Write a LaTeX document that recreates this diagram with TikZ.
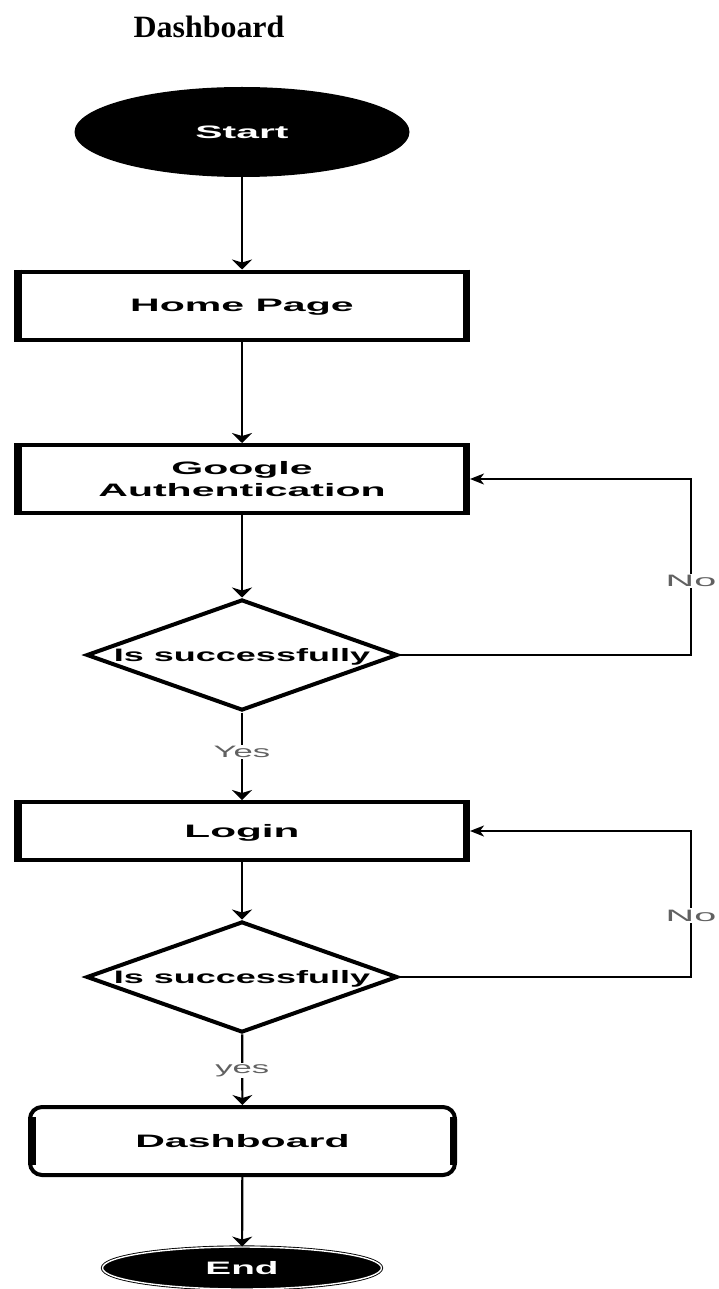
\documentclass[tikz,border=0pt]{standalone}
\usepackage{fontspec}
\setmainfont{Liberation Serif}
\setsansfont{Liberation Sans}
\usepackage{graphicx}
\usetikzlibrary{shapes.geometric,arrows.meta}
\newcommand{\wtxt}[2][2.28]{\scalebox{#1}[1]{#2}}
\begin{document}
\begin{tikzpicture}[x=1pt,y=-1pt,
  boxfont/.style={font=\sffamily\bfseries\fontsize{18}{22}\selectfont, text depth=0pt},
  procbox/.style={boxfont, draw, line width=4pt, rectangle, minimum width=452pt, minimum height=68pt, inner sep=0pt, align=center},
  roundbox/.style={procbox, rounded corners=12pt, minimum width=425pt, minimum height=68pt},
  vside/.style={line width=7.5pt},
  decision/.style={boxfont, draw, line width=4pt, diamond, minimum width=311pt, minimum height=111pt, inner sep=0pt},
  terminal/.style={boxfont, ellipse, fill=black, text=white, inner sep=0pt},
  flow/.style={line width=2.2pt, -{Stealth[length=10pt,width=20pt,inset=3pt]}},
  back/.style={line width=1.6pt, -{Stealth[length=14pt,width=11pt,inset=4pt]}},
  lbl/.style={font=\sffamily\fontsize{16.5}{18}\selectfont, text=black!62, fill=white, inner sep=1.5pt}
]
\useasboundingbox (0,0) rectangle (719,1289);

\node[font=\bfseries\fontsize{31}{36}\selectfont] (title) at (209,27) {\scalebox{1.03}[1]{Dashboard}};

\node[terminal, minimum width=335pt, minimum height=90pt] (start) at (242,132) {\wtxt[2.27]{Start}};

\node[procbox] (home) at (242,305.5) {\wtxt{Home Page}};
\node[procbox] (gauth) at (242,479) {\wtxt{Google}\\\wtxt{Authentication}};
\node[decision] (d1) at (242,655) {\makebox[0pt]{\wtxt[2.0]{Is successfully}}};
\node[procbox, minimum height=58pt] (login) at (242,831) {\wtxt[2.35]{Login}};
\node[decision] (d2) at (242,977) {\makebox[0pt]{\wtxt[2.0]{Is successfully}}};
\node[roundbox] (dash) at (242.5,1141) {\wtxt{Dashboard}};
\node[terminal, minimum width=279pt, minimum height=42pt, draw=black, double=white, double distance=1.4pt, line width=0.9pt] (end) at (242,1268) {\wtxt[2.15]{End}};

% thick vertical sides
\foreach \n in {home,gauth,login}{
  \draw[vside] ([xshift=3.75pt]\n.north west) -- ([xshift=3.75pt]\n.south west);
  \draw[vside] ([xshift=-3.75pt]\n.north east) -- ([xshift=-3.75pt]\n.south east);
}
\draw[vside] ([xshift=3.75pt,yshift=-12pt]dash.north west) -- ([xshift=3.75pt,yshift=12pt]dash.south west);
\draw[vside] ([xshift=-3.75pt,yshift=-12pt]dash.north east) -- ([xshift=-3.75pt,yshift=12pt]dash.south east);

\coordinate (rail) at (691,0);

\draw[flow] (start) -- (home);
\draw[flow] (home) -- (gauth);
\draw[flow] (gauth) -- (d1);
\draw[flow] (d1) -- node[lbl, pos=0.45] {\wtxt[2.1]{Yes}} (login);
\draw[flow] (login) -- (d2);
\draw[flow] (d2) -- node[lbl, pos=0.51] {\wtxt[2.1]{yes}} (dash);
\draw[flow] (dash) -- (end);

\draw[back] (d1.east) -| node[lbl, pos=0.71] {\wtxt[2.4]{No}} (rail |- gauth.east) -- (gauth.east);
\draw[back] (d2.east) -| node[lbl, pos=0.71] {\wtxt[2.4]{No}} (rail |- login.east) -- (login.east);
\end{tikzpicture}
\end{document}
